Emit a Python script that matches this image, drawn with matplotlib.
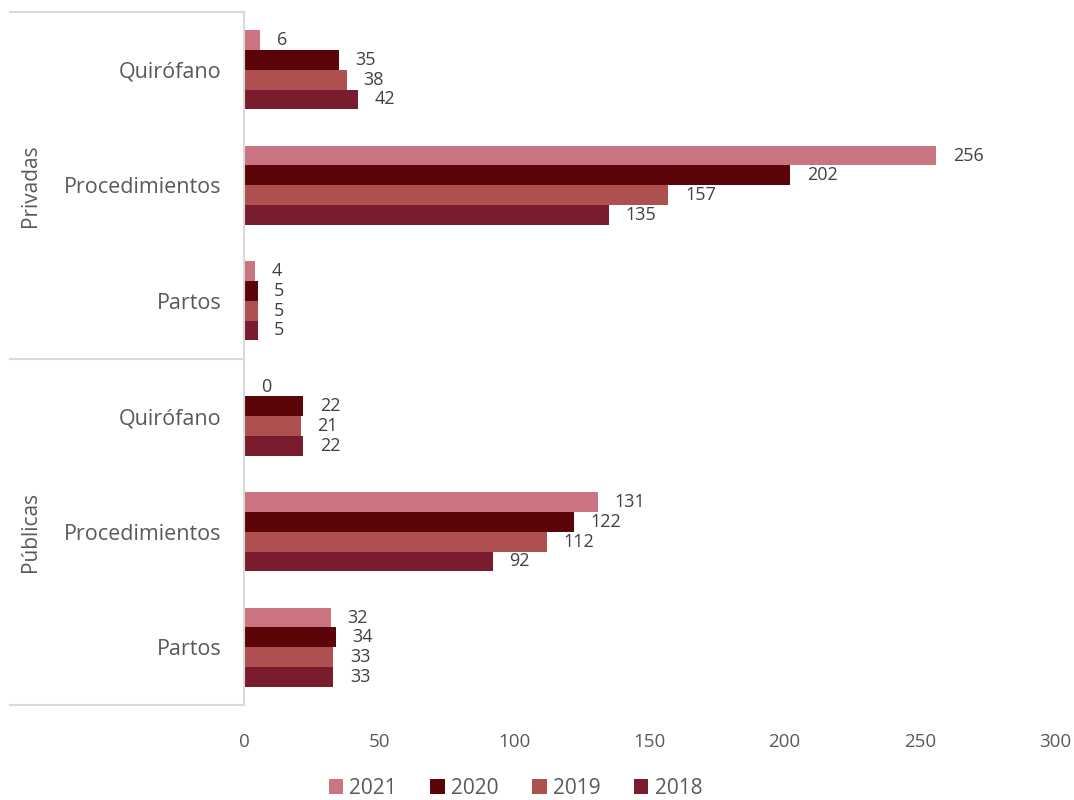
import matplotlib
matplotlib.use("Agg")
import matplotlib.pyplot as plt
import matplotlib.transforms as mtrans
import numpy as np

plt.rcParams['font.family'] = ['Open Sans', 'DejaVu Sans']

groups = ["Privadas", "Públicas"]
categories = ["Quirófano", "Procedimientos", "Partos", "Quirófano", "Procedimientos", "Partos"]
years = ["2021", "2020", "2019", "2018"]
v2021 = [6, 256, 4, 0, 131, 32]
v2020 = [35, 202, 5, 22, 122, 34]
v2019 = [38, 157, 5, 21, 112, 33]
v2018 = [42, 135, 5, 22, 92, 33]
series = [v2021, v2020, v2019, v2018]
colors = ["#C97480", "#5B0509", "#AE5050", "#781C2E"]
xticks = [0, 50, 100, 150, 200, 250, 300]

W, H = 1074, 800
fig = plt.figure(figsize=(W / 100, H / 100), dpi=100)
ax_left, ax_right, ax_top, ax_bot = 244, 1055, 12, 705
ax = fig.add_axes([ax_left / W, 1 - ax_bot / H, (ax_right - ax_left) / W, (ax_bot - ax_top) / H])

n = len(categories)
bh = 0.171
centers = np.arange(n) + 0.5
for k, (vals, col, yr) in enumerate(zip(series, colors, years)):
    ys = centers + (k - 1.5) * bh
    ax.barh(ys, vals, height=bh, color=col, label=yr, edgecolor="none")
    for y, v in zip(ys, vals):
        ax.annotate(str(v), xy=(v, y), xytext=(12, 0), textcoords="offset points",
                    ha="left", va="center", fontsize=13, color="#404040")

ax.set_xlim(0, 300)
ax.set_ylim(n, 0)
ax.set_xticks(xticks)
ax.set_xticklabels([str(t) for t in xticks], fontsize=13.5, color="#595959")
ax.tick_params(axis="x", length=0, pad=20)
ax.set_yticks(centers)
ax.set_yticklabels(categories, fontsize=15.5, color="#595959")
ax.tick_params(axis="y", length=0, pad=16)
for s in ["top", "right", "bottom"]:
    ax.spines[s].set_visible(False)
ax.spines["left"].set_color("#D9D9D9")
ax.spines["left"].set_linewidth(1.5)

tr = mtrans.blended_transform_factory(ax.transAxes, ax.transData)
x0 = (10 - ax_left) / (ax_right - ax_left)
for yv in [0, 3, 6]:
    ax.plot([x0, 0], [yv, yv], transform=tr, color="#D9D9D9", lw=1.5, clip_on=False)
gx = (30 - ax_left) / (ax_right - ax_left)
for i, g in enumerate(groups):
    ax.text(gx, 1.5 + 3 * i, g, transform=tr, rotation=90, ha="center", va="center",
            fontsize=15, color="#595959")

handles, labels = ax.get_legend_handles_labels()
fig.legend(handles, labels, loc="center", bbox_to_anchor=(0.48, 1 - 788 / H), ncol=4,
           frameon=False, fontsize=15, handlelength=0.7, handleheight=0.7,
           handletextpad=0.3, columnspacing=1.6, labelcolor="#595959")

fig.savefig("out.png", dpi=100)
